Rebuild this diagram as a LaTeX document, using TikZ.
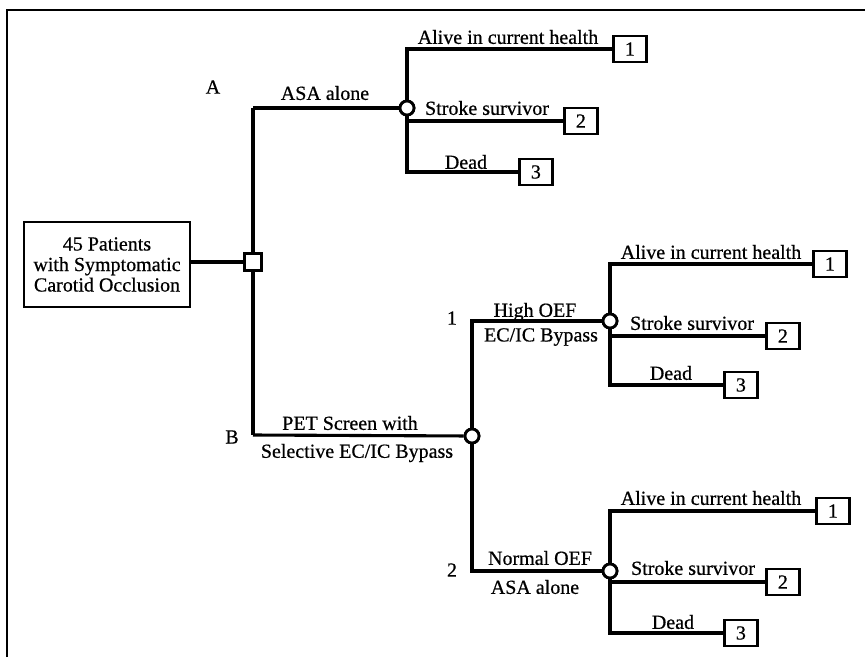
\documentclass[tikz,border=0pt]{standalone}
\usepackage{fontspec}
\setmainfont{Liberation Serif}[FakeBold=0.6]
\begin{document}
\begin{tikzpicture}[x=1pt,y=-1pt,
  every node/.style={font=\fontsize{20}{20.5}\selectfont},
  ln/.style={line width=3.1pt},
  dec/.style={draw,line width=2.8pt,fill=white,minimum size=17pt,inner sep=0pt},
  chance/.style={draw,circle,line width=2.8pt,fill=white,minimum size=14pt,inner sep=0pt},
  outbox/.style={draw,line width=2.8pt,minimum width=33pt,minimum height=26pt,inner sep=0pt,anchor=west},
  lab/.style={inner sep=0pt}]
\useasboundingbox (0,0) rectangle (865,657);
% frame
\draw[line width=2.2pt] (7,657) -- (7,10) -- (865,10);
% root
\node[draw,line width=2.8pt,minimum width=166pt,minimum height=85pt,align=center,inner sep=0pt] (pat) at (107,264.5) {45 Patients\\with Symptomatic\\Carotid Occlusion};
\coordinate (A) at (253,108);
\coordinate (B) at (253,435);
\node[chance] (c1) at (407,108) {};
\node[chance] (c2) at (472,436) {};
\node[chance] (c3) at (610,321) {};
\node[chance] (c4) at (610,571) {};
% outcome boxes
\node[outbox] (o11) at (612,49) {1};
\node[outbox] (o12) at (563,121) {2};
\node[outbox] (o13) at (518,172) {3};
\node[outbox] (o21) at (812,264) {1};
\node[outbox] (o22) at (765,336) {2};
\node[outbox] (o23) at (723,385) {3};
\node[outbox] (o31) at (815,511) {1};
\node[outbox] (o32) at (765,582) {2};
\node[outbox] (o33) at (723,633) {3};
\node[dec] (d) at (253,262) {};
% connectors
\draw[ln] (A) -- (B);
\draw[ln] (pat.east |- d.west) -- (d.west);
\draw[ln] (A) -- (c1);
\draw[ln] (B) -- (c2);
\draw[ln] (c2) |- (c3);
\draw[ln] (c2) |- (c4);
\draw[ln] (c1) |- (o11.west);
\draw[ln] (c1) |- (o12.west);
\draw[ln] (c1) |- (o13.west);
\draw[ln] (c3) |- (o21.west);
\draw[ln] (c3) |- (o22.west);
\draw[ln] (c3) |- (o23.west);
\draw[ln] (c4) |- (o31.west);
\draw[ln] (c4) |- (o32.west);
\draw[ln] (c4) |- (o33.west);
\node[dec] at (d) {};
\node[chance] at (c1) {};
\node[chance] at (c2) {};
\node[chance] at (c3) {};
\node[chance] at (c4) {};
% labels
\node[lab] (la) at (213,87) {A};
\node[lab] (lb) at (232,437) {B};
\node[lab] (l1) at (452,318) {1};
\node[lab] (l2) at (452,570) {2};
\node[lab] (tasa) at (325,93) {ASA alone};
\node[lab] (tpet1) at (350,423) {PET Screen with};
\node[lab] (tpet2) at (357,453) {Selective EC/IC Bypass};
\node[lab] (thi1) at (535,312) {High OEF};
\node[lab] (thi2) at (541,337) {EC/IC Bypass};
\node[lab] (tno1) at (540,558) {Normal OEF};
\node[lab] (tno2) at (535,587) {ASA alone};
\node[lab] (ta1) at (508,37) {Alive in current health};
\node[lab] (ts1) at (487,108) {Stroke survivor};
\node[lab] (td1) at (466,162) {Dead};
\node[lab] (ta2) at (711,252) {Alive in current health};
\node[lab] (ts2) at (692,323) {Stroke survivor};
\node[lab] (td2) at (671,373) {Dead};
\node[lab] (ta3) at (711,498) {Alive in current health};
\node[lab] (ts3) at (693,568) {Stroke survivor};
\node[lab] (td3) at (673,622) {Dead};
\end{tikzpicture}
\end{document}
